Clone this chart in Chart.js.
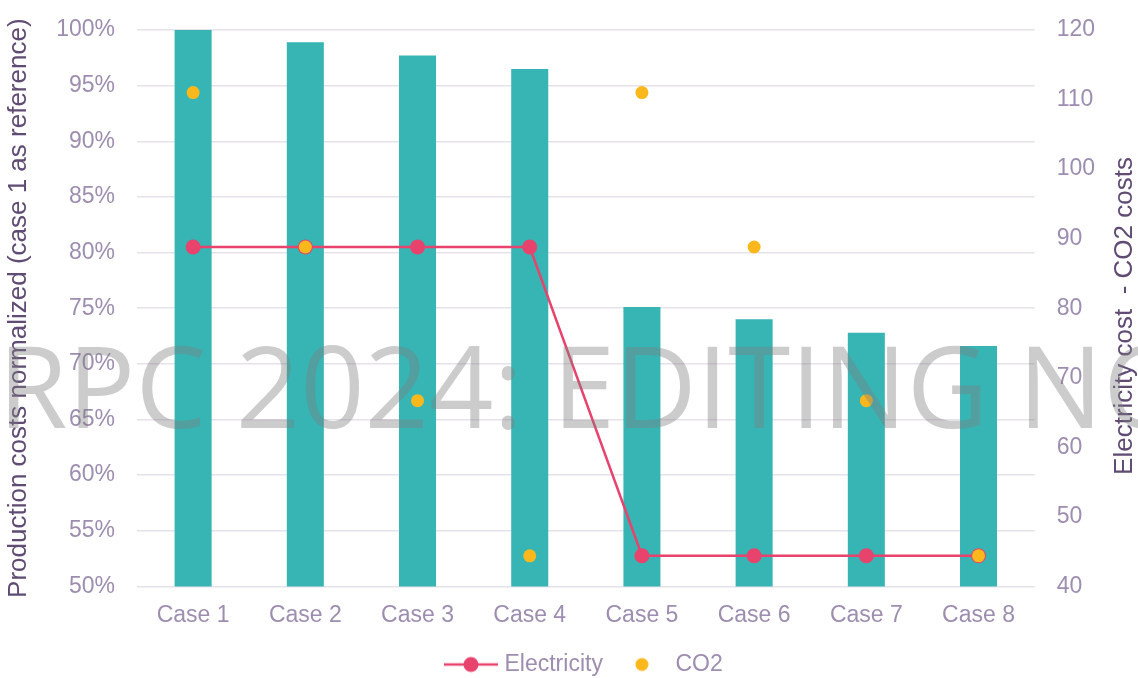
<!DOCTYPE html>
<html>
<head>
<meta charset="utf-8">
<script src="https://cdn.jsdelivr.net/npm/chart.js@4"></script>
<style>
  html, body { margin: 0; padding: 0; background: #fff; }
  #wrap { width: 1138px; height: 678px; }
</style>
</head>
<body>
<div id="wrap"><canvas id="costCanvas"></canvas></div>
<script>
const caseLabels = ["Case 1", "Case 2", "Case 3", "Case 4", "Case 5", "Case 6", "Case 7", "Case 8"];
const productionCost = [100, 98.9, 97.7, 96.5, 75.1, 74.0, 72.8, 71.6];
const electricityCost = [88.8, 88.8, 88.8, 88.8, 44.4, 44.4, 44.4, 44.4];
const co2Cost = [111, 88.8, 66.7, 44.4, 111, 88.8, 66.7, 44.4];

const leftTicks = { min: 50, max: 100, step: 5 };
const rightTicks = { min: 40, max: 120, step: 10 };

const leftTitle = "Production costs normalized (case 1 as reference)";
const rightTitle = "Electricity cost  - CO2 costs";
const watermarkText = "RPC 2024: EDITING NOT";

const teal = "#36b5b4";
const pink = "#e8436d";
const amber = "#fbb81d";
const tickColor = "#9d8db0";
const titleColor = "#5f4b73";
const fontName = "'Liberation Sans', Arial, sans-serif";

function legendIcon(width, withLine, color, radius) {
  const c = document.createElement("canvas");
  c.width = width;
  c.height = 18;
  const ctx = c.getContext("2d");
  if (withLine) {
    ctx.strokeStyle = color;
    ctx.lineWidth = 2.5;
    ctx.beginPath();
    ctx.moveTo(0, 9);
    ctx.lineTo(width, 9);
    ctx.stroke();
  }
  ctx.fillStyle = color;
  ctx.beginPath();
  ctx.arc(width / 2, 9, radius, 0, Math.PI * 2);
  ctx.fill();
  return c;
}

const elecIcon = legendIcon(54, true, pink, 7.5);
const co2Icon = legendIcon(14, false, amber, 6.5);

const watermark = {
  id: "watermark",
  afterDraw(chart) {
    const ctx = chart.ctx;
    ctx.save();
    // right axis title, reading bottom to top
    ctx.translate(1125, 316);
    ctx.rotate(-Math.PI / 2);
    ctx.font = "26px " + fontName;
    ctx.fillStyle = titleColor;
    ctx.textAlign = "center";
    ctx.textBaseline = "middle";
    ctx.fillText(rightTitle, 0, 0);
    ctx.restore();

    ctx.save();
    ctx.font = "100px 'Open Sans', sans-serif";
    let w = ctx.measureText("RPC 2024: EDITING N").width;
    let size = 100 * 1105 / w;
    ctx.font = size + "px 'Open Sans', sans-serif";
    ctx.fillStyle = "rgba(128,128,128,0.4)";
    ctx.textBaseline = "alphabetic";
    ctx.fillText(watermarkText, -2, 428);
    ctx.restore();
  }
};

new Chart(document.getElementById("costCanvas"), {
  data: {
    labels: caseLabels,
    datasets: [
      {
        type: "bar",
        label: "Production costs",
        data: productionCost,
        backgroundColor: teal,
        yAxisID: "y",
        barPercentage: 0.33,
        categoryPercentage: 1,
        order: 3
      },
      {
        type: "line",
        label: "Electricity",
        data: electricityCost,
        borderColor: pink,
        backgroundColor: pink,
        borderWidth: 2.5,
        pointRadius: 7.5,
        pointBorderWidth: 0,
        tension: 0,
        yAxisID: "y1",
        order: 2
      },
      {
        type: "line",
        label: "CO2",
        data: co2Cost,
        showLine: false,
        borderColor: amber,
        backgroundColor: amber,
        pointRadius: 6.5,
        pointBorderWidth: 0,
        yAxisID: "y1",
        order: 1
      }
    ]
  },
  options: {
    responsive: true,
    maintainAspectRatio: false,
    animation: false,
    layout: { padding: { top: 30, right: 21, left: 3, bottom: -8 } },
    scales: {
      x: {
        grid: { display: false },
        border: { display: false },
        ticks: { color: tickColor, font: { family: fontName, size: 23 }, padding: 7 }
      },
      y: {
        position: "left",
        min: leftTicks.min,
        max: leftTicks.max,
        grid: { color: "#e6e2ea", lineWidth: 1.5, drawTicks: false },
        border: { display: false },
        ticks: {
          stepSize: leftTicks.step,
          color: tickColor,
          padding: 22,
          font: { family: fontName, size: 23, lineHeight: 0.5 },
          callback: v => v + "%"
        },
        title: {
          display: true,
          text: leftTitle,
          color: titleColor,
          font: { family: fontName, size: 26 },
          padding: { top: 0, bottom: 0 }
        }
      },
      y1: {
        position: "right",
        min: rightTicks.min,
        max: rightTicks.max,
        grid: { display: false, drawTicks: false },
        border: { display: false },
        ticks: {
          stepSize: rightTicks.step,
          color: tickColor,
          padding: 22,
          font: { family: fontName, size: 23, lineHeight: 0.5 }
        }
      }
    },
    plugins: {
      tooltip: { enabled: false },
      legend: {
        position: "bottom",
        fullSize: false,
        labels: {
          usePointStyle: true,
          pointStyleWidth: 44,
          boxHeight: 18,
          padding: 17,
          color: tickColor,
          font: { family: fontName, size: 23 },
          generateLabels: chart => [
            { text: "Electricity", pointStyle: elecIcon, fontColor: tickColor, datasetIndex: 1, hidden: false, lineWidth: 0 },
            { text: "CO2", pointStyle: co2Icon, fontColor: tickColor, datasetIndex: 2, hidden: false, lineWidth: 0 }
          ]
        }
      }
    }
  },
  plugins: [watermark]
});
</script>
</body>
</html>
